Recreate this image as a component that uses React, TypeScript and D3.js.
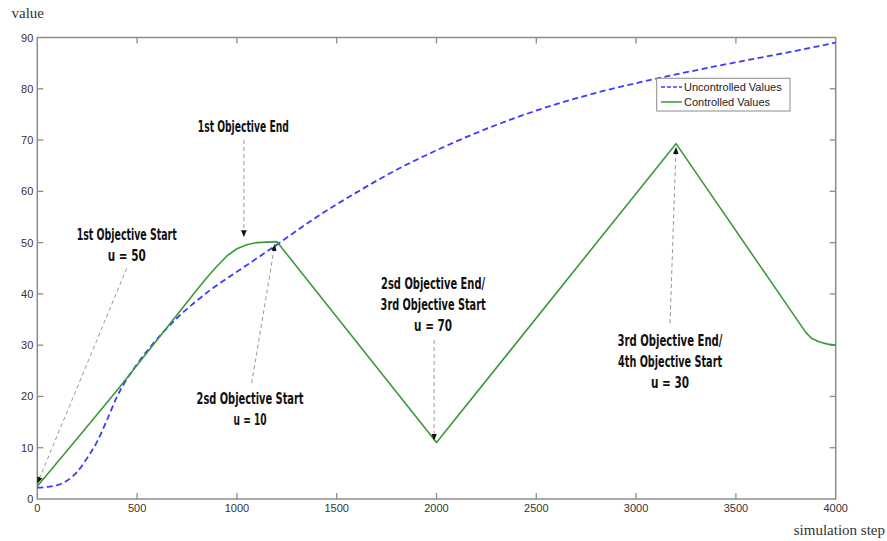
import React from 'react';
import * as d3 from 'd3';

// uncontrolled values (blue dashed)
const blueSteps = [0, 100, 150, 200, 250, 300, 350, 400, 500, 600, 700, 800, 900, 1000, 1200, 1400, 1600, 1800, 2000, 2200, 2400, 2600, 2800, 3000, 3200, 3400, 3600, 3800, 4000];
const blueValues = [2.2, 2.7, 3.6, 5.3, 8, 11.2, 15.5, 20, 26.3, 31.2, 35.3, 38.7, 41.7, 44.3, 49.6, 55, 59.8, 64.2, 68, 71.4, 74.4, 77, 79.2, 81.1, 82.8, 84.4, 85.9, 87.4, 89];

// controlled values (green)
const greenSteps = [0, 200, 400, 600, 800, 850, 900, 950, 1000, 1050, 1100, 1200, 2000, 3200, 3850, 3880, 3920, 3960, 4000];
const greenValues = [2.5, 11.8, 21.2, 31, 40.8, 43.2, 45.4, 47.4, 48.8, 49.6, 50, 50.2, 11, 69.3, 32.5, 31.3, 30.6, 30.2, 30];

const xTicks = [0, 500, 1000, 1500, 2000, 2500, 3000, 3500, 4000];
const yTicks = [0, 10, 20, 30, 40, 50, 60, 70, 80, 90];

const legendLabels = ['Uncontrolled Values', 'Controlled Values'];

// annotations: arrow tip / tail in data units, text lines
const annotations = [
  { tip: [1, 3.1], tail: [448, 45], at: [448, 51.5], lines: ['1st Objective Start', 'u = 50'], widths: [100, 38] },
  { tip: [1035, 51.2], tail: [1035, 70], at: [1032, 72.6], lines: ['1st Objective End'], widths: [91] },
  { tip: [1190, 49.6], tail: [1074, 22.6], at: [1066, 19.6], lines: ['2sd Objective Start', 'u = 10'], widths: [107, 33] },
  { tip: [1988, 11.5], tail: [1988, 31], at: [1983, 42.1], lines: ['2sd Objective End/', '3rd Objective Start', 'u = 70'], widths: [104, 105, 38] },
  { tip: [3200, 68.5], tail: [3170, 34.3], at: [3170, 31], lines: ['3rd Objective End/', '4th Objective Start', 'u = 30'], widths: [105, 104, 38] },
];

const W = 887;
const H = 541;
const left = 37.3;
const right = 835.7;
const top = 37.5;
const bottom = 499;

const axisColor = '#8c8c8c';
const blue = '#3b3bff';
const green = '#3a9a3a';

export default function App() {
  const x = d3.scaleLinear().domain([0, 4000]).range([left, right]);
  const y = d3.scaleLinear().domain([0, 90]).range([bottom, top]);

  const line = d3
    .line<number>()
    .x((d, i) => x(blueSteps[i]))
    .y(d => y(d))
    .curve(d3.curveMonotoneX);
  const greenLine = d3
    .line<number>()
    .x((d, i) => x(greenSteps[i]))
    .y(d => y(d));

  const tickFont = 'Liberation Sans, Arial, sans-serif';
  const annFont = 'Liberation Sans Narrow, DejaVu Sans Condensed, Arial Narrow, sans-serif';

  return (
    <div style={{ position: 'absolute', left: 0, top: 0 }}>
      <svg width={W} height={H} style={{ display: 'block', background: '#fff' }}>
        <defs>
          <marker id="arr" viewBox="0 0 10 10" refX="9" refY="5" markerWidth="7" markerHeight="7" orient="auto" markerUnits="userSpaceOnUse">
            <path d="M0,1 L10,5 L0,9 z" fill="#111" />
          </marker>
        </defs>

        {/* axis labels */}
        <text x={11.5} y={18} fontFamily="Liberation Serif, serif" fontSize={15} fill="#333">value</text>
        <text x={885} y={535} textAnchor="end" fontFamily="Liberation Serif, serif" fontSize={15} fill="#333">simulation step</text>

        {/* box */}
        <rect x={left} y={top} width={right - left} height={bottom - top} fill="none" stroke={axisColor} strokeWidth={1.5} />

        {/* x ticks */}
        {xTicks.map(t => (
          <g key={'x' + t}>
            {t > 0 && t < 4000 && (
              <>
                <line x1={x(t)} x2={x(t)} y1={bottom} y2={bottom - 6} stroke={axisColor} strokeWidth={1.3} />
                <line x1={x(t)} x2={x(t)} y1={top} y2={top + 6} stroke={axisColor} strokeWidth={1.3} />
              </>
            )}
            <text x={x(t)} y={bottom + 13} textAnchor="middle" fontFamily={tickFont} fontSize={11} fill="#333">{t}</text>
          </g>
        ))}

        {/* y ticks */}
        {yTicks.map(t => (
          <g key={'y' + t}>
            {t > 0 && t < 90 && (
              <>
                <line x1={left} x2={left + 6} y1={y(t)} y2={y(t)} stroke={axisColor} strokeWidth={1.3} />
                <line x1={right} x2={right - 6} y1={y(t)} y2={y(t)} stroke={axisColor} strokeWidth={1.3} />
              </>
            )}
            <text x={left - 4} y={y(t) + 4} textAnchor="end" fontFamily={tickFont} fontSize={11} fill="#333">{t}</text>
          </g>
        ))}

        {/* series */}
        <path d={line(blueValues) || ''} fill="none" stroke={blue} strokeWidth={1.8} strokeDasharray="6,3.5" />
        <path d={greenLine(greenValues) || ''} fill="none" stroke={green} strokeWidth={1.6} strokeLinejoin="round" />

        {/* annotations */}
        {annotations.map((a, i) => (
          <g key={'a' + i}>
            <line
              x1={x(a.tail[0])}
              y1={y(a.tail[1])}
              x2={x(a.tip[0])}
              y2={y(a.tip[1])}
              stroke="#999"
              strokeWidth={1}
              strokeDasharray="4,3"
              markerEnd="url(#arr)"
            />
            {a.lines.map((l, j) => (
              <text
                key={j}
                x={x(a.at[0])}
                y={y(a.at[1]) + 5.5 + j * 21}
                textAnchor="middle"
                fontFamily={annFont}
                fontWeight="bold"
                fontSize={16}
                fill="#111"
                textLength={a.widths[j]}
                lengthAdjust="spacingAndGlyphs"
              >
                {l}
              </text>
            ))}
          </g>
        ))}

        {/* legend */}
        <rect x={656.7} y={78.3} width={133.3} height={32.7} fill="#fff" stroke={axisColor} strokeWidth={1} />
        {legendLabels.map((l, i) => (
          <g key={l}>
            <line
              x1={661}
              x2={682}
              y1={87 + i * 15}
              y2={87 + i * 15}
              stroke={i === 0 ? blue : green}
              strokeWidth={1.5}
              strokeDasharray={i === 0 ? '4,2' : undefined}
            />
            <text x={684} y={91 + i * 15} fontFamily={tickFont} fontSize={11} fill="#222">{l}</text>
          </g>
        ))}
      </svg>
    </div>
  );
}
